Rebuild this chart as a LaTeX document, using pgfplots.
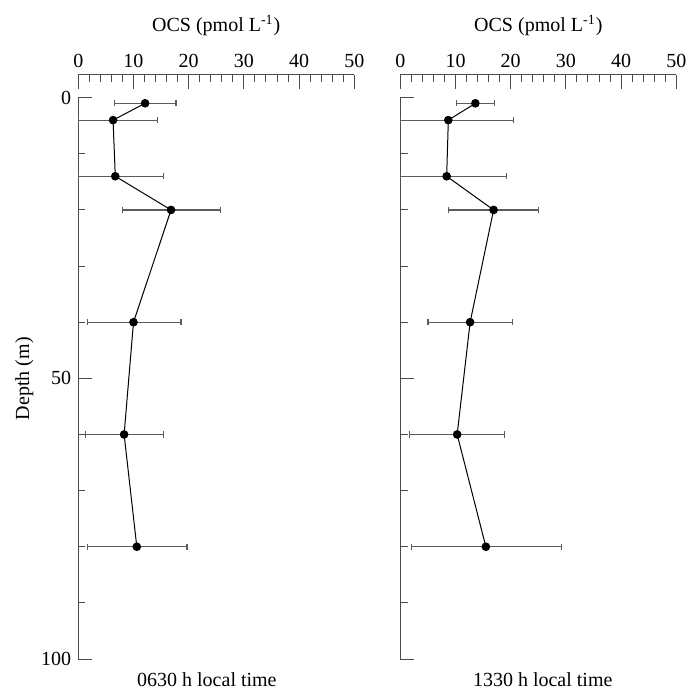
\documentclass[border=0pt]{standalone}
\usepackage{pgfplots}
\pgfplotsset{compat=1.18}
\usepackage{fontspec}
\setmainfont{Liberation Serif}

\definecolor{axisgray}{rgb}{0.30,0.30,0.30}
\definecolor{bargray}{rgb}{0.36,0.36,0.36}

\pgfplotsset{
  ocsprofile/.style={
    scale only axis,
    width=138pt, height=292pt,
    xmin=0, xmax=50, ymin=-4.04, ymax=100,
    y dir=reverse,
    axis x line*=top,
    axis y line*=left,
    axis line style={-, axisgray, line width=0.5pt},
    y axis line style={shorten <=11.35pt},
    xticklabel pos=upper,
    xtick={0,10,...,50},
    minor x tick num=4,
    ytick={0,50,100},
    minor ytick={10,20,30,40,60,70,80,90},
    tick align=inside,
    major tick length=6.8pt,
    minor tick length=3.6pt,
    tick style={axisgray, line width=0.5pt},
    /pgf/number format/assume math mode=true,
    tick label style={font=\fontsize{10}{12}\selectfont},
    label style={font=\fontsize{10}{12}\selectfont},
    xlabel={OCS (pmol L\textsuperscript{-1})},
    xlabel style={yshift=2.5pt},
    clip=false,
  },
  profile/.style={
    black, line width=0.5pt,
    mark=*, mark size=1.9pt, mark options={solid, fill=black},
    error bars/.cd,
      x dir=both, x explicit,
      error bar style={bargray, line width=0.6pt},
      error mark options={rotate=90, mark size=1.6pt, bargray, line width=0.6pt},
  },
}

\begin{document}
\begin{tikzpicture}
\useasboundingbox (-39.15pt,-15pt) rectangle (305pt,329.5pt);
\begin{axis}[ocsprofile, name=L,
    ylabel={Depth (m)},
    ylabel style={at={(ticklabel cs:0.48)}, yshift=-3pt},
]
\addplot+[profile] coordinates {
  (12.1,1)  -= (5.5,0) += (5.6,0)
  (6.3,4)   -= (6.3,0) += (8.0,0)
  (6.7,14)  -= (6.7,0) += (8.7,0)
  (16.8,20) -= (8.8,0) += (8.9,0)
  (10.0,40) -= (8.4,0) += (8.6,0)
  (8.3,60)  -= (7.0,0) += (7.2,0)
  (10.6,80) -= (8.9,0) += (9.1,0)
};
\node[anchor=base, font=\fontsize{10}{12}\selectfont] at (axis cs:23.3,100) [yshift=-13.5pt] {0630 h local time};
\end{axis}

\begin{axis}[ocsprofile, name=R, at={(161pt,0pt)},
    yticklabels={},
]
\addplot+[profile] coordinates {
  (13.6,1)  -= (3.4,0)  += (3.5,0)
  (8.7,4)   -= (8.7,0)  += (11.8,0)
  (8.4,14)  -= (8.4,0)  += (10.8,0)
  (16.9,20) -= (8.1,0)  += (8.2,0)
  (12.65,40) -= (7.65,0) += (7.65,0)
  (10.3,60) -= (8.6,0)  += (8.6,0)
  (15.5,80) -= (13.5,0) += (13.7,0)
};
\node[anchor=base, font=\fontsize{10}{12}\selectfont] at (axis cs:25.8,100) [yshift=-13.5pt] {1330 h local time};
\end{axis}
\end{tikzpicture}
\end{document}
